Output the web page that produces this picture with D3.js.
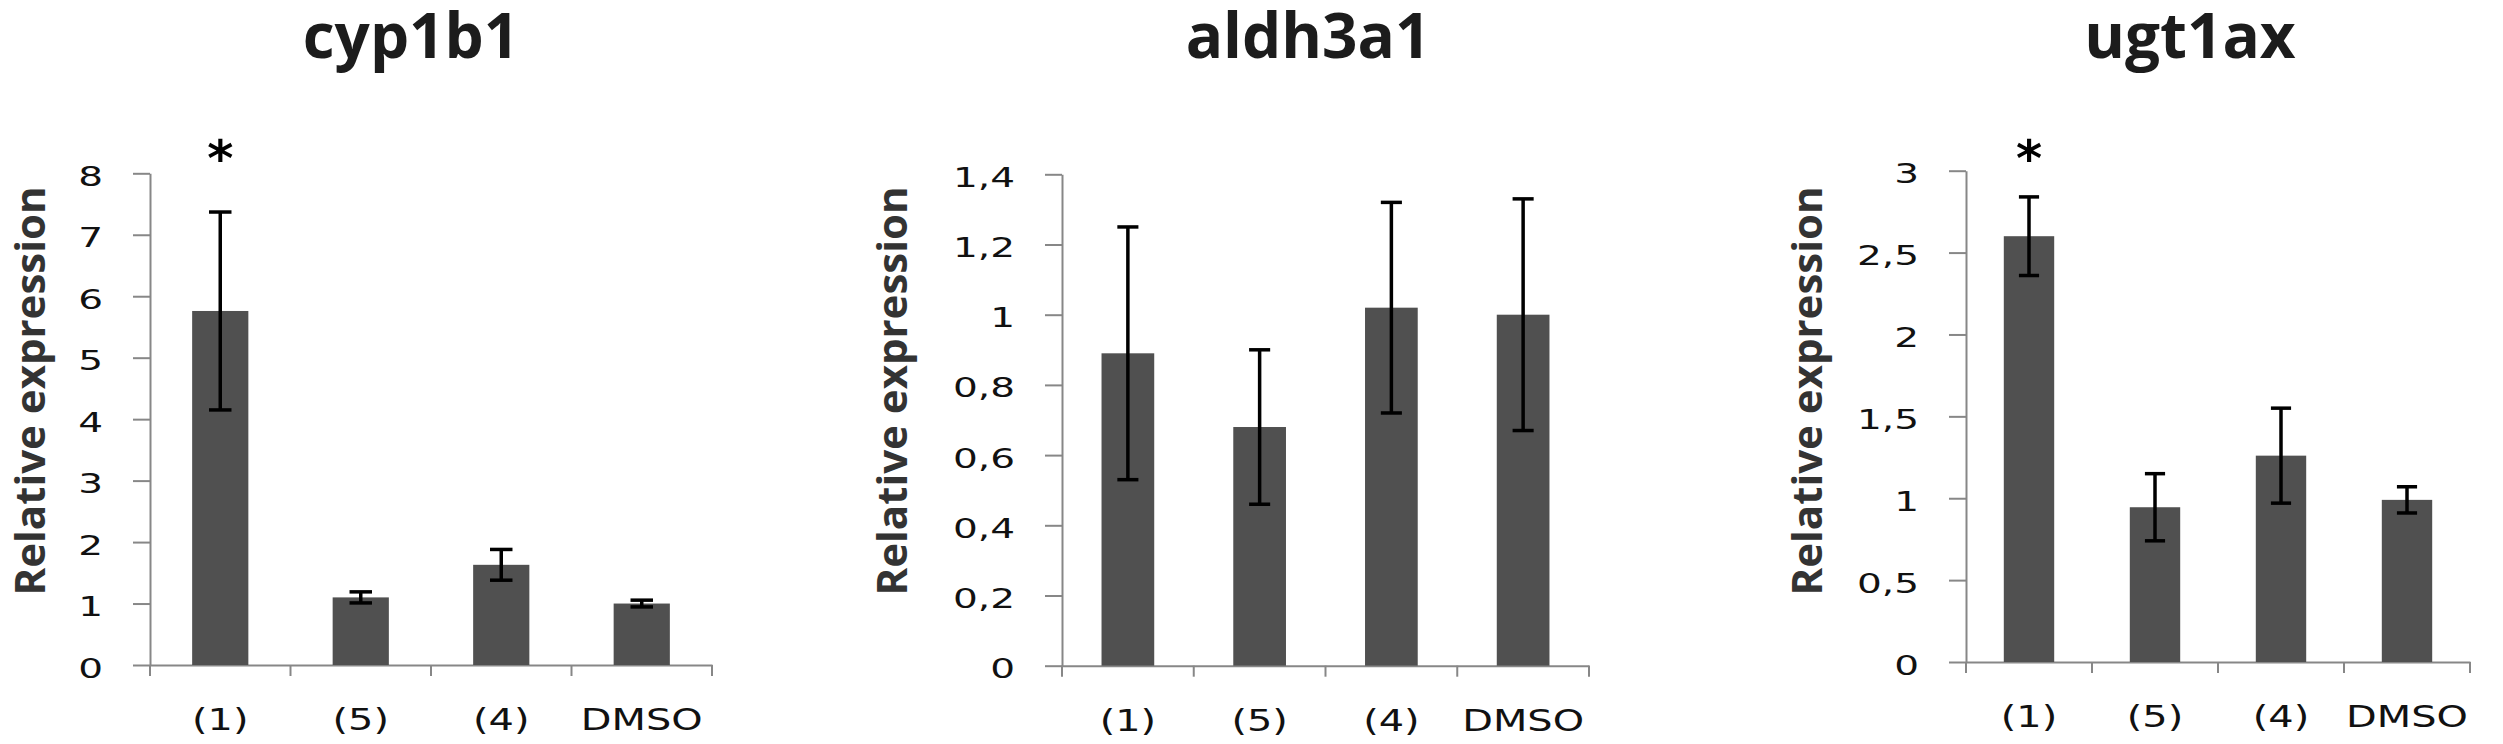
<!DOCTYPE html>
<html>
<head>
<meta charset="utf-8">
<script src="https://cdn.jsdelivr.net/npm/d3@7"></script>
<style>
  html, body { margin: 0; padding: 0; background: #ffffff; }
  svg { display: block; }
</style>
</head>
<body>
<svg id="chart" width="2503" height="744"></svg>
<script>
// ---------------- data ----------------
const categories = ["(1)", "(5)", "(4)", "DMSO"];
const genes = ["cyp1b1", "aldh3a1", "ugt1ax"];

const cyp1b1Values = [5.76, 1.10, 1.63, 1.00];
const cyp1b1Errors = [1.61, 0.09, 0.25, 0.055];
const cyp1b1Marks  = ["*", "", "", ""];
const cyp1b1Ticks  = [0, 1, 2, 3, 4, 5, 6, 7, 8];

const aldh3a1Values = [0.89, 0.68, 1.02, 1.00];
const aldh3a1Errors = [0.36, 0.22, 0.30, 0.33];
const aldh3a1Marks  = ["", "", "", ""];
const aldh3a1Ticks  = [0, 0.2, 0.4, 0.6, 0.8, 1, 1.2, 1.4];

const ugt1axValues = [2.60, 0.945, 1.26, 0.99];
const ugt1axErrors = [0.24, 0.205, 0.29, 0.08];
const ugt1axMarks  = ["*", "", "", ""];
const ugt1axTicks  = [0, 0.5, 1, 1.5, 2, 2.5, 3];

const yLabel = "Relative expression";

// ---------------- layout ----------------
const panels = [
  { title: genes[0], values: cyp1b1Values, errors: cyp1b1Errors, marks: cyp1b1Marks, ticks: cyp1b1Ticks,
    x0: 150, x1: 712, yBottom: 665, yTop: 173.3, labelX: 45, titleX: 411 },
  { title: genes[1], values: aldh3a1Values, errors: aldh3a1Errors, marks: aldh3a1Marks, ticks: aldh3a1Ticks,
    x0: 1062, x1: 1589, yBottom: 665.7, yTop: 174.3, labelX: 907, titleX: 1308 },
  { title: genes[2], values: ugt1axValues, errors: ugt1axErrors, marks: ugt1axMarks, ticks: ugt1axTicks,
    x0: 1966, x1: 2470, yBottom: 662, yTop: 170.7, labelX: 1822, titleX: 2190 }
];

const axisColor = "#878787";
const barColor = "#505050";
const fmt = d => String(d).replace(".", ",");

const svg = d3.select("#chart");

panels.forEach(p => {
  const g = svg.append("g");

  const x = d3.scaleBand()
    .domain(categories)
    .range([p.x0, p.x1])
    .paddingInner(0.6)
    .paddingOuter(0.3);

  const y = d3.scaleLinear()
    .domain([0, d3.max(p.ticks)])
    .range([p.yBottom, p.yTop]);

  // title
  g.append("text")
    .attr("x", p.titleX)
    .attr("y", 58)
    .attr("text-anchor", "middle")
    .style("font-family", "'Open Sans', sans-serif")
    .style("font-weight", "bold")
    .style("font-size", "62px")
    .style("fill", "#1c1c1c")
    .text(p.title);

  // y label
  g.append("text")
    .attr("transform", `translate(${p.labelX},391) rotate(-90)`)
    .attr("text-anchor", "middle")
    .style("font-family", "'Open Sans', sans-serif")
    .style("font-weight", "bold")
    .style("font-size", "42px")
    .style("fill", "#333333")
    .text(yLabel);

  // y axis
  const yAxis = g.append("g")
    .attr("transform", `translate(${p.x0},0)`)
    .call(d3.axisLeft(y).tickValues(p.ticks).tickFormat(fmt).tickSize(17).tickSizeOuter(0));
  yAxis.select(".domain").attr("stroke", axisColor).attr("stroke-width", 2);
  yAxis.selectAll(".tick line").attr("stroke", axisColor).attr("stroke-width", 2);
  yAxis.selectAll(".tick text")
    .attr("x", null).attr("dy", null).attr("y", 12)
    .attr("transform", "translate(-47,0) scale(1.5,1)")
    .attr("text-anchor", "end")
    .style("font-family", "'DejaVu Sans', Verdana, sans-serif")
    .style("font-size", "26px")
    .style("fill", "#111");

  // x axis
  const xAxis = g.append("g")
    .attr("transform", `translate(0,${p.yBottom})`)
    .call(d3.axisBottom(x).tickSize(0).tickSizeOuter(0));
  xAxis.select(".domain").attr("stroke", axisColor).attr("stroke-width", 2);
  xAxis.selectAll(".tick text")
    .attr("y", null).attr("dy", null)
    .attr("transform", "translate(0,65) scale(1.33,1)")
    .style("font-family", "'DejaVu Sans', Verdana, sans-serif")
    .style("font-size", "30px")
    .style("fill", "#111");

  // x tick marks at category boundaries
  const bounds = d3.range(categories.length + 1).map(i => p.x0 + i * x.step());
  g.append("g").selectAll("line")
    .data(bounds)
    .join("line")
    .attr("x1", d => d).attr("x2", d => d)
    .attr("y1", p.yBottom).attr("y2", p.yBottom + 11)
    .attr("stroke", axisColor).attr("stroke-width", 2);

  const data = categories.map((c, i) => ({ c, v: p.values[i], e: p.errors[i], m: p.marks[i] }));
  const bw = x.bandwidth();
  const cap = bw * 0.4;

  // bars
  g.append("g").selectAll("rect")
    .data(data)
    .join("rect")
    .attr("x", d => x(d.c))
    .attr("width", bw)
    .attr("y", d => y(d.v))
    .attr("height", d => y(0) - y(d.v))
    .attr("fill", barColor);

  // error bars
  const eb = g.append("g").attr("stroke", "#000").attr("stroke-width", 3.5);
  data.forEach(d => {
    const cx = x(d.c) + bw / 2;
    eb.append("line").attr("x1", cx).attr("x2", cx).attr("y1", y(d.v + d.e)).attr("y2", y(d.v - d.e));
    eb.append("line").attr("x1", cx - cap / 2).attr("x2", cx + cap / 2).attr("y1", y(d.v + d.e)).attr("y2", y(d.v + d.e));
    eb.append("line").attr("x1", cx - cap / 2).attr("x2", cx + cap / 2).attr("y1", y(d.v - d.e)).attr("y2", y(d.v - d.e));
  });

  // significance marks
  g.append("g").selectAll("text")
    .data(data.filter(d => d.m))
    .join("text")
    .attr("x", d => x(d.c) + bw / 2)
    .attr("y", 176)
    .attr("text-anchor", "middle")
    .style("font-family", "'DejaVu Sans', sans-serif")
    .style("font-weight", "bold")
    .style("font-size", "50px")
    .style("fill", "#000")
    .text(d => d.m);
});
</script>
</body>
</html>
